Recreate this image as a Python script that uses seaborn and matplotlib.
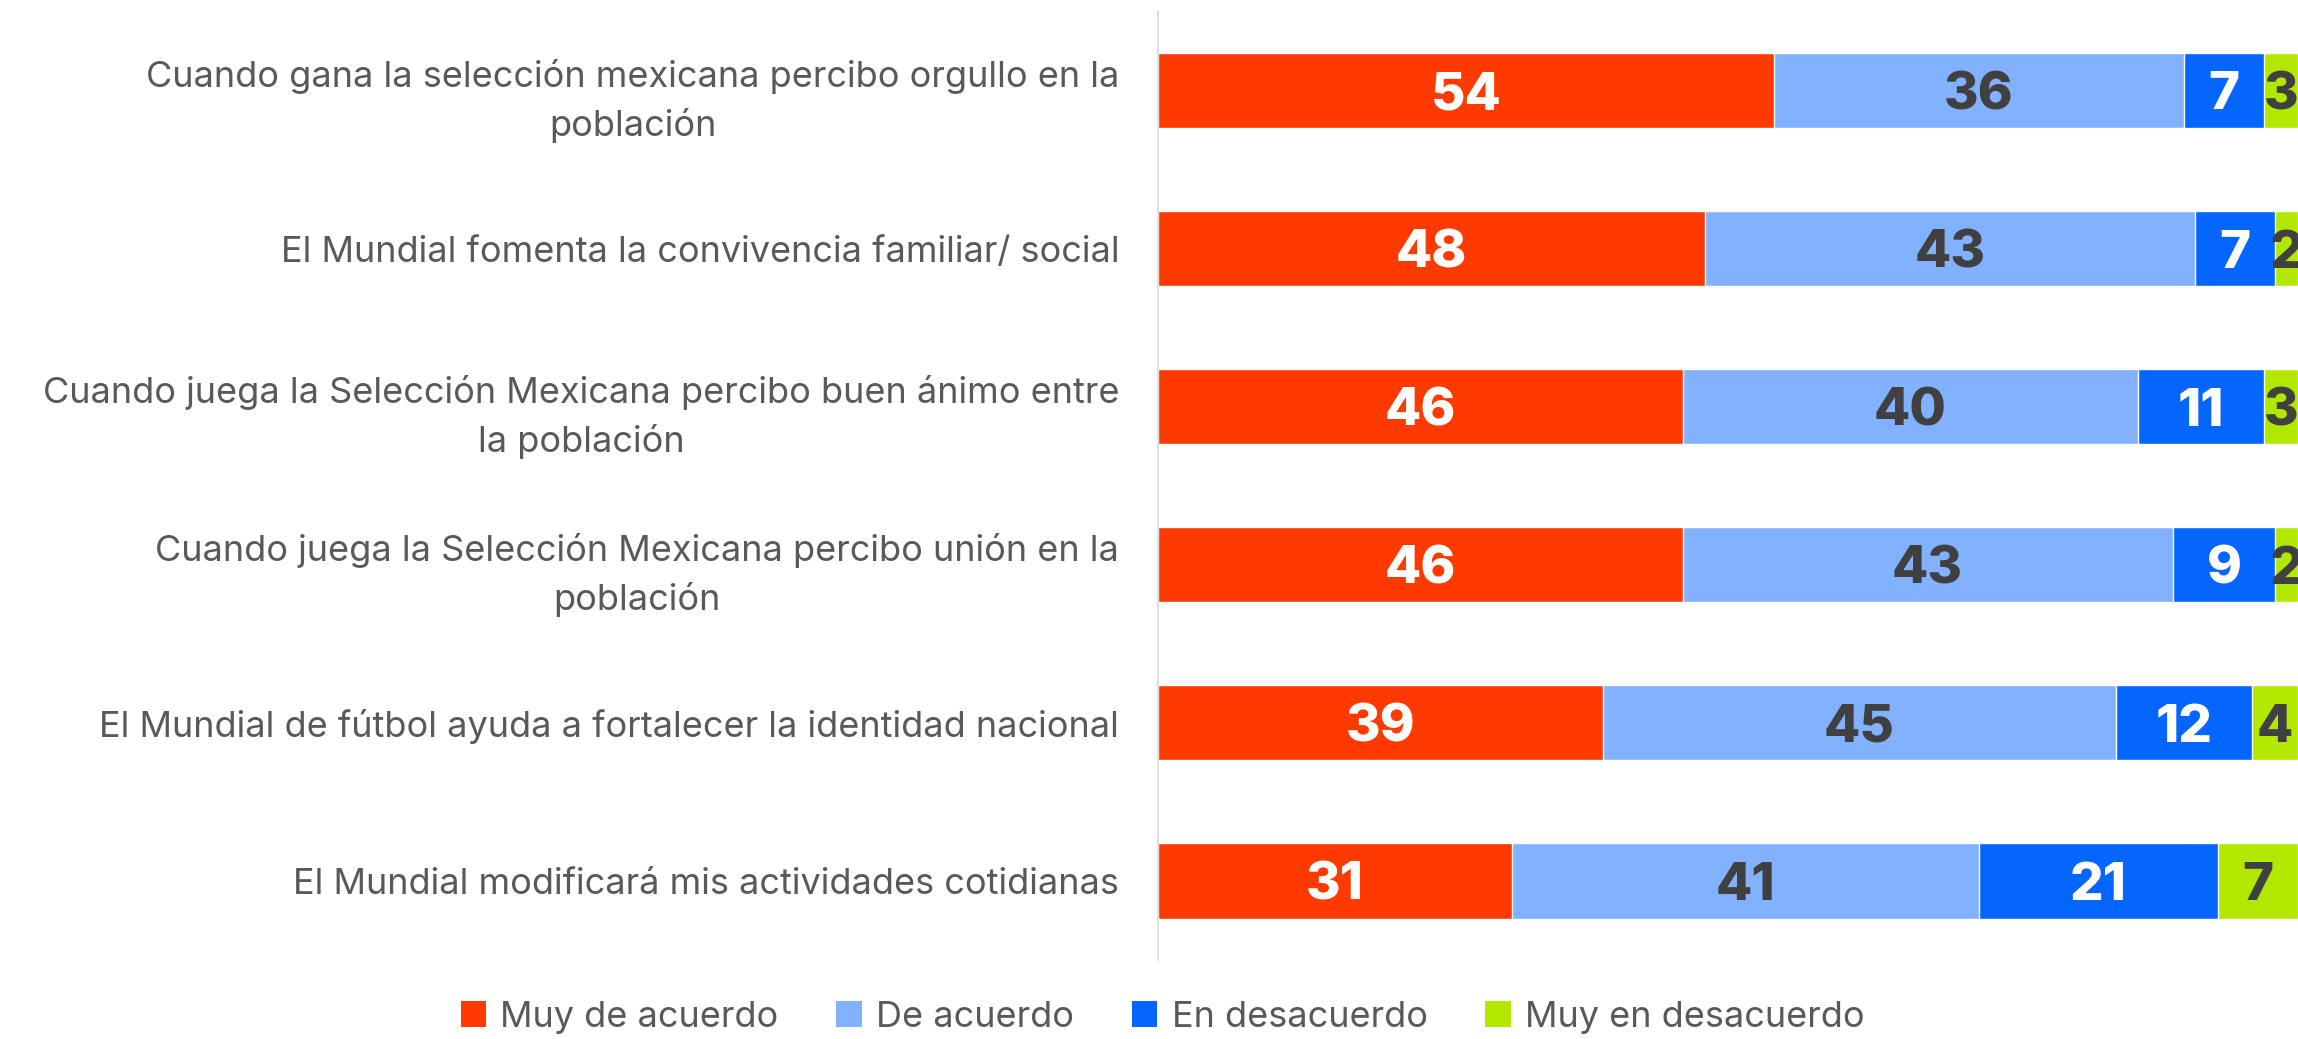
import matplotlib
matplotlib.use("Agg")
import matplotlib.pyplot as plt
import seaborn as sns
import pandas as pd
import numpy as np
from matplotlib.patches import Patch

# Data
categories = [
    "Cuando gana la selección mexicana percibo orgullo en la\npoblación",
    "El Mundial fomenta la convivencia familiar/ social",
    "Cuando juega la Selección Mexicana percibo buen ánimo entre\nla población",
    "Cuando juega la Selección Mexicana percibo unión en la\npoblación",
    "El Mundial de fútbol ayuda a fortalecer la identidad nacional",
    "El Mundial modificará mis actividades cotidianas",
]
series_names = ["Muy de acuerdo", "De acuerdo", "En desacuerdo", "Muy en desacuerdo"]
muy_de_acuerdo = [54, 48, 46, 46, 39, 31]
de_acuerdo = [36, 43, 40, 43, 45, 41]
en_desacuerdo = [7, 7, 11, 9, 12, 21]
muy_en_desacuerdo = [3, 2, 3, 2, 4, 7]

colors = ["#ff3a00", "#82b1ff", "#0566ff", "#b2e800"]
label_colors = ["white", "#404040", "white", "#404040"]

sns.set_theme(style="white")
plt.rcParams["font.family"] = ["Inter", "DejaVu Sans"]

df = pd.DataFrame({
    "categoria": categories,
    series_names[0]: muy_de_acuerdo,
    series_names[1]: de_acuerdo,
    series_names[2]: en_desacuerdo,
    series_names[3]: muy_en_desacuerdo,
})
cum = df[series_names].cumsum(axis=1)

fig = plt.figure(figsize=(22.98, 10.39), dpi=100)
ax = fig.add_axes([0.504, 0.076, 0.496, 0.913])

# stacked bars: draw cumulative totals from the largest down
for i in range(len(series_names) - 1, -1, -1):
    sns.barplot(x=cum[series_names[i]], y=df["categoria"], color=colors[i],
                width=0.475, saturation=1, ax=ax, orient="h")

# value labels
for i, name in enumerate(series_names):
    left = cum[name] - df[name]
    for j, v in enumerate(df[name]):
        ax.text(left[j] + v / 2, j, str(v), ha="center", va="center_baseline",
                color=label_colors[i], fontsize=38, fontweight="heavy", clip_on=False)

ax.set_xlim(0, 100)
ax.set_ylim(5.5, -0.5)
ax.set_xlabel("")
ax.set_ylabel("")
ax.set_xticks([])
ax.tick_params(axis="y", length=0, pad=28, labelsize=26, labelcolor="#595959")
for t in ax.get_yticklabels():
    t.set_multialignment("center")
    t.set_linespacing(1.5)

for s in ["top", "right", "bottom"]:
    ax.spines[s].set_visible(False)
ax.spines["left"].set_color("#d9d9d9")
ax.spines["left"].set_linewidth(1.2)

handles = [Patch(facecolor=c, edgecolor="none") for c in colors]
leg = fig.legend(handles, series_names, loc="center", bbox_to_anchor=(0.506, 0.021),
                 ncol=4, frameon=False, fontsize=26, handlelength=0.7, handleheight=0.7,
                 handletextpad=0.4, columnspacing=1.6)
for t in leg.get_texts():
    t.set_color("#595959")

fig.savefig("out.png", dpi=100)
